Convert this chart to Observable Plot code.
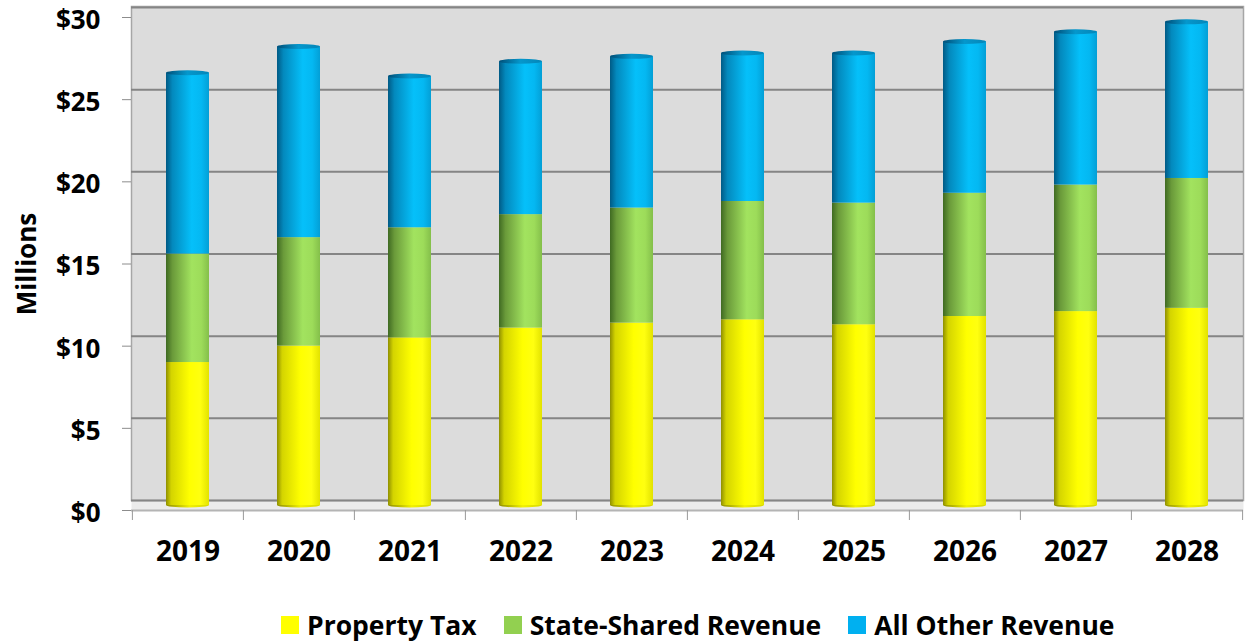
<!DOCTYPE html>
<html>
<head>
<meta charset="utf-8">
<script src="https://cdn.jsdelivr.net/npm/d3@7"></script>
<script src="https://cdn.jsdelivr.net/npm/@observablehq/plot@0.6"></script>
<style>
  html, body { margin: 0; padding: 0; background: #fff; }
  body { position: relative; width: 1247px; height: 641px; overflow: hidden; font-family: "Open Sans", sans-serif; }
  #legend { position: absolute; left: 281px; top: 609px; display: flex; align-items: center; font-weight: bold; font-size: 26.5px; line-height: 32px; color: #000; white-space: nowrap; }
  #legend .item { display: flex; align-items: center; margin-right: 27px; }
  #legend .sw { width: 18px; height: 18px; margin-right: 8px; }
</style>
</head>
<body>
<div id="chart"></div>
<div id="legend"></div>
<script>
const years = ["2019","2020","2021","2022","2023","2024","2025","2026","2027","2028"];
const seriesNames = ["Property Tax", "State-Shared Revenue", "All Other Revenue"];
const propertyTax = [8.7, 9.7, 10.2, 10.8, 11.1, 11.3, 11.0, 11.5, 11.8, 12.0];
const stateShared = [6.6, 6.6, 6.7, 6.9, 7.0, 7.2, 7.4, 7.5, 7.7, 7.9];
const allOther = [11.0, 11.6, 9.2, 9.3, 9.2, 9.0, 9.1, 9.2, 9.3, 9.5];
const yTicks = [0, 5, 10, 15, 20, 25, 30];
const legendColors = ["#FFFF00", "#92D050", "#00B0F0"];

const seriesValues = [propertyTax, stateShared, allOther];
const table = [];
seriesNames.forEach((s, i) => years.forEach((yr, j) => table.push({year: yr, series: s, value: seriesValues[i][j]})));
const totals = years.map((yr, j) => ({year: yr, total: propertyTax[j] + stateShared[j] + allOther[j]}));

const gradients = [
  {id: "gY", stops: [[0, "#8f8f00"], [0.12, "#d4d400"], [0.55, "#ffff00"], [0.8, "#ffff10"], [1, "#e2e200"]]},
  {id: "gG", stops: [[0, "#3f6a22"], [0.15, "#6a9a3a"], [0.6, "#a2e35f"], [0.82, "#9ddc5a"], [1, "#84bf4a"]]},
  {id: "gB", stops: [[0, "#005a85"], [0.15, "#0389bd"], [0.6, "#05c0fa"], [0.82, "#04b8f2"], [1, "#039fd6"]]},
  {id: "gBt", stops: [[0, "#004f78"], [0.5, "#0597cc"], [1, "#0486b8"]]},
  {id: "gYb", stops: [[0, "#8f8f00"], [0.55, "#f2f200"], [1, "#d8d800"]]}
];

function defsMark() {
  const defs = d3.create("svg:defs");
  for (const g of gradients) {
    const lg = defs.append("linearGradient").attr("id", g.id).attr("x1", 0).attr("x2", 1).attr("y1", 0).attr("y2", 0);
    for (const [o, c] of g.stops) lg.append("stop").attr("offset", o).attr("stop-color", c);
  }
  return defs.node();
}

const halfStep = 1112 / 10 / 2;

const plot = Plot.plot({
  width: 1247,
  height: 595,
  marginLeft: 131,
  marginRight: 4,
  marginTop: 17,
  marginBottom: 85,
  style: {fontFamily: "Open Sans, sans-serif", color: "#000", background: "#fff", overflow: "visible"},
  x: {domain: years, paddingInner: 0.61, paddingOuter: 0.305, label: null},
  y: {domain: [0, 30], label: null},
  color: {domain: seriesNames, range: ["url(#gY)", "url(#gG)", "url(#gB)"]},
  marks: [
    defsMark,
    Plot.frame({fill: "#ebebeb", stroke: null}),
    Plot.frame({fill: "#dcdcdc", stroke: "#a6a6a6", strokeWidth: 1.5, insetTop: -11, insetBottom: 10}),
    Plot.gridY(yTicks, {dy: -10, stroke: "#858585", strokeOpacity: 1, strokeWidth: 2}),
    Plot.ruleY([0], {stroke: "#b4b4b4", strokeWidth: 2}),
    Plot.axisY({ticks: yTicks, tickFormat: d => "$" + d, tickSize: 9, tickPadding: 22, fontSize: 26, fontWeight: "bold", stroke: "#8c8c8c", textStroke: null}),
    Plot.axisY({ticks: yTicks, tickSize: 0, text: null, label: "Millions", labelAnchor: "center", labelArrow: "none", labelOffset: 114, fontSize: 26, fontWeight: "bold"}),
    Plot.axisX({tickSize: 0, tickPadding: 31, fontSize: 28, fontWeight: "bold"}),
    Plot.axisX({tickSize: 10, text: null, dx: -halfStep, stroke: "#9a9a9a"}),
    Plot.axisX({ticks: [years[years.length - 1]], tickSize: 10, text: null, dx: halfStep, stroke: "#9a9a9a"}),
    Plot.barY(totals, {x: "year", y1: 0, y2: 0, dy: -5, insetTop: -2.5, insetBottom: -2.5, rx: 22, ry: 2.5, fill: "url(#gYb)"}),
    Plot.barY(table, Plot.stackY({x: "year", y: "value", fill: "series", order: null, dy: -5})),
    Plot.barY(totals, {x: "year", y1: "total", y2: "total", dy: -5, insetTop: -2.5, insetBottom: -2.5, rx: 22, ry: 2.5, fill: "url(#gBt)"})
  ]
});
// nudge y tick labels slightly down, like the reference
d3.select(plot).selectAll("[aria-label='y-axis tick label'] text").attr("dy", "0.12em");
document.getElementById("chart").appendChild(plot);

const legend = document.getElementById("legend");
seriesNames.forEach((s, i) => {
  const item = document.createElement("div");
  item.className = "item";
  const sw = document.createElement("div");
  sw.className = "sw";
  sw.style.background = legendColors[i];
  const t = document.createElement("span");
  t.textContent = s;
  item.appendChild(sw);
  item.appendChild(t);
  legend.appendChild(item);
});
</script>
</body>
</html>
